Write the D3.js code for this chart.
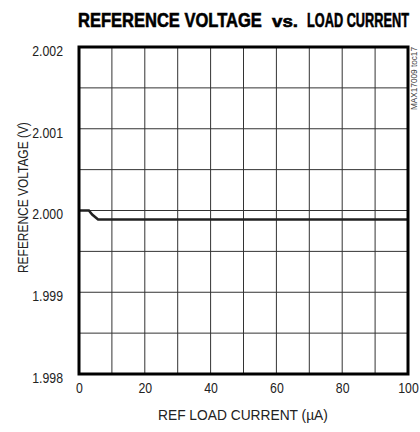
<!DOCTYPE html>
<meta charset="utf-8">
<style>
    body { margin: 0; background: #fff; }
    text { font-family: "Liberation Sans", Arial, sans-serif; fill: #222; }
    .grid line { stroke: #333; stroke-width: 1; }
    .title { font-weight: bold; fill: #000; stroke: #000; stroke-width: 0.6; }
</style>
<body>
<svg id="chart" width="420" height="432"></svg>
</body>
<script src="https://d3js.org/d3.v7.min.js"></script>
<script>
    // load current (uA) and reference voltage (V)
    var loadCurrent = [0, 3, 4, 5.8, 100];
    var refVoltage = [2.0000, 2.0000, 1.99995, 1.99989, 1.99989];
    var xTicks = [0, 20, 40, 60, 80, 100];
    var yTicks = [1.998, 1.999, 2.000, 2.001, 2.002];

    var m = {left: 79, right: 12, top: 47, bottom: 58},
        width = 420 - m.left - m.right,
        height = 432 - m.top - m.bottom;

    var svg = d3.select("#chart");
    var g = svg.append("g").attr("transform", "translate(" + m.left + "," + m.top + ")");

    var x = d3.scaleLinear().domain([0, 100]).range([0, width]);
    var y = d3.scaleLinear().domain([1.998, 2.002]).range([height, 0]);

    // squeeze a text horizontally so it spans w pixels (condensed look)
    function fit(sel, pre, w) {
        var n = sel.node().getComputedTextLength();
        sel.attr("transform", pre + " scale(" + (w / n) + ",1)");
    }

    // grid
    var grid = g.append("g").attr("class", "grid");
    grid.selectAll(".vx").data(d3.range(10, 100, 10)).enter().append("line")
        .attr("x1", function(d) { return x(d); }).attr("x2", function(d) { return x(d); })
        .attr("y1", 0).attr("y2", height);
    grid.selectAll(".hy").data(d3.range(1, 8).map(function(i) { return 1.998 + i * 0.0005; })).enter().append("line")
        .attr("y1", function(d) { return y(d); }).attr("y2", function(d) { return y(d); })
        .attr("x1", 0).attr("x2", width);

    // axes
    g.append("g").attr("transform", "translate(0," + height + ")")
        .call(d3.axisBottom(x).tickValues(xTicks).tickSize(0).tickPadding(8.5))
        .call(function(a) {
            a.select(".domain").remove();
            a.selectAll("text").style("font-size", "15px").style("font-family", "Liberation Sans").style("fill", "#222")
                .attr("transform", "scale(0.82,1)");
        });
    g.append("g")
        .call(d3.axisLeft(y).tickValues(yTicks).tickSize(0).tickPadding(19.5).tickFormat(d3.format(".3f")))
        .call(function(a) {
            a.select(".domain").remove();
            a.selectAll("text").style("font-size", "15px").style("font-family", "Liberation Sans").style("fill", "#222")
                .attr("transform", "scale(0.82,1)").attr("dy", "0.55em");
        });

    // data line
    var line = d3.line()
        .x(function(d, i) { return x(loadCurrent[i]); })
        .y(function(d) { return y(d); });
    g.append("path").datum(refVoltage)
        .attr("d", line)
        .attr("fill", "none")
        .attr("stroke", "#222")
        .attr("stroke-width", 2.5);

    // frame
    g.append("rect").attr("width", width).attr("height", height)
        .attr("fill", "none").attr("stroke", "#000").attr("stroke-width", 3);

    // title in three pieces
    var t1 = svg.append("text").attr("class", "title").style("font-size", "20px").text("REFERENCE VOLTAGE");
    fit(t1, "translate(78,27)", 184);
    var t2 = svg.append("text").attr("class", "title").style("font-size", "16px").text("vs.");
    fit(t2, "translate(272,27)", 26);
    var t3 = svg.append("text").attr("class", "title").style("font-size", "20px").text("LOAD CURRENT");
    fit(t3, "translate(307,27)", 102);

    var xt = svg.append("text").style("font-size", "15.5px").text("REF LOAD CURRENT (\u00b5A)");
    fit(xt, "translate(158,420)", 170);

    var yt = svg.append("text").style("font-size", "15.5px").text("REFERENCE VOLTAGE (V)");
    fit(yt, "translate(28,273) rotate(-90)", 151);

    var note = svg.append("text").style("font-size", "9px").style("fill", "#444").text("MAX17009 toc17");
    fit(note, "translate(417,110) rotate(-90)", 63);
</script>
